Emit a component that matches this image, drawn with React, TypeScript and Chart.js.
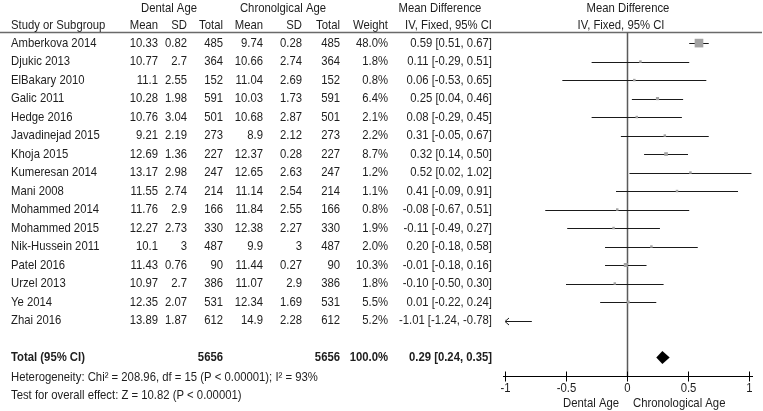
import React, { useEffect, useRef } from "react";
import { Chart, registerables } from "chart.js";

Chart.register(...registerables);

const studies = [
  "Amberkova 2014", "Djukic 2013", "ElBakary 2010", "Galic 2011", "Hedge 2016",
  "Javadinejad 2015", "Khoja 2015", "Kumeresan 2014", "Mani 2008", "Mohammed 2014",
  "Mohammed 2015", "Nik-Hussein 2011", "Patel 2016", "Urzel 2013", "Ye 2014", "Zhai 2016",
];
const dentalMean = [10.33, 10.77, 11.1, 10.28, 10.76, 9.21, 12.69, 13.17, 11.55, 11.76, 12.27, 10.1, 11.43, 10.97, 12.35, 13.89];
const dentalSD = [0.82, 2.7, 2.55, 1.98, 3.04, 2.19, 1.36, 2.98, 2.74, 2.9, 2.73, 3, 0.76, 2.7, 2.07, 1.87];
const dentalTotal = [485, 364, 152, 591, 501, 273, 227, 247, 214, 166, 330, 487, 90, 386, 531, 612];
const chronMean = [9.74, 10.66, 11.04, 10.03, 10.68, 8.9, 12.37, 12.65, 11.14, 11.84, 12.38, 9.9, 11.44, 11.07, 12.34, 14.9];
const chronSD = [0.28, 2.74, 2.69, 1.73, 2.87, 2.12, 0.28, 2.63, 2.54, 2.55, 2.27, 3, 0.27, 2.9, 1.69, 2.28];
const chronTotal = [485, 364, 152, 591, 501, 273, 227, 247, 214, 166, 330, 487, 90, 386, 531, 612];
const weights = [48.0, 1.8, 0.8, 6.4, 2.1, 2.2, 8.7, 1.2, 1.1, 0.8, 1.9, 2.0, 10.3, 1.8, 5.5, 5.2];
const meanDiff = [0.59, 0.11, 0.06, 0.25, 0.08, 0.31, 0.32, 0.52, 0.41, -0.08, -0.11, 0.2, -0.01, -0.1, 0.01, -1.01];
const ciLow = [0.51, -0.29, -0.53, 0.04, -0.29, -0.05, 0.14, 0.02, -0.09, -0.67, -0.49, -0.18, -0.18, -0.5, -0.22, -1.24];
const ciHigh = [0.67, 0.51, 0.65, 0.46, 0.45, 0.67, 0.5, 1.02, 0.91, 0.51, 0.27, 0.58, 0.16, 0.3, 0.24, -0.78];

const totalDental = 5656;
const totalChron = 5656;
const totalWeight = 100.0;
const totalMD = 0.29;
const totalLow = 0.24;
const totalHigh = 0.35;

const xTicks = [-1, -0.5, 0, 0.5, 1];
const xTickLabels = ["-1", "-0.5", "0", "0.5", "1"];
const heterogeneityText = "Heterogeneity: Chi\u00B2 = 208.96, df = 15 (P < 0.00001); I\u00B2 = 93%";
const overallText = "Test for overall effect: Z = 10.82 (P < 0.00001)";
const leftLabel = "Dental Age";
const rightLabel = "Chronological Age";

const TOTAL_ROW = 17;
const AXIS_ROW = 18;
const TOP_ROW = -0.6;

const FONT = '"Liberation Sans", Arial, sans-serif';
const SX = 0.87;
const TEXT = "#1e1e1e";

function txt(ctx: CanvasRenderingContext2D, s: string, x: number, y: number, align: CanvasTextAlign, bold = false, size = 13) {
  ctx.save();
  ctx.font = `${bold ? "bold " : ""}${size}px ${FONT}`;
  ctx.fillStyle = TEXT;
  ctx.textBaseline = "middle";
  ctx.textAlign = align;
  ctx.translate(x, y);
  ctx.scale(SX, 1);
  ctx.fillText(s, 0, 0);
  ctx.restore();
}

const fmt2 = (v: number) => v.toFixed(2);
const ciText = (m: number, l: number, h: number) => `${fmt2(m)} [${fmt2(l)}, ${fmt2(h)}]`;

const forestPlugin = {
  id: "forest",
  beforeDatasetsDraw(chart: any) {
    const ctx: CanvasRenderingContext2D = chart.ctx;
    const xs = chart.scales.x;
    const ys = chart.scales.y;
    const W = chart.width;
    // header line
    const hy = Math.round(ys.getPixelForValue(TOP_ROW)) + 0.5;
    ctx.save();
    ctx.strokeStyle = "#6a6a6a";
    ctx.lineWidth = 1.5;
    ctx.beginPath();
    ctx.moveTo(0, hy);
    ctx.lineTo(W - 1, hy);
    ctx.stroke();
    // zero line
    const zx = Math.round(xs.getPixelForValue(0)) + 0.5;
    ctx.strokeStyle = "#5a5a5a";
    ctx.lineWidth = 1.5;
    ctx.beginPath();
    ctx.moveTo(zx, hy);
    ctx.lineTo(zx, ys.getPixelForValue(AXIS_ROW));
    ctx.stroke();
    // whiskers
    ctx.strokeStyle = "#1a1a1a";
    ctx.lineWidth = 1;
    for (let i = 0; i < studies.length; i++) {
      const y = Math.round(ys.getPixelForValue(i)) + 0.5;
      const lo = Math.max(ciLow[i], -1);
      const hi = Math.min(ciHigh[i], 1.05);
      const x1 = xs.getPixelForValue(lo);
      const x2 = xs.getPixelForValue(hi);
      ctx.beginPath();
      ctx.moveTo(x1, y);
      ctx.lineTo(x2, y);
      ctx.stroke();
      if (ciLow[i] < -1) {
        ctx.beginPath();
        ctx.moveTo(x1 + 4, y - 3.5);
        ctx.lineTo(x1, y);
        ctx.lineTo(x1 + 4, y + 3.5);
        ctx.stroke();
      }
    }
    ctx.restore();
  },
  afterDraw(chart: any) {
    const ctx: CanvasRenderingContext2D = chart.ctx;
    const xs = chart.scales.x;
    const ys = chart.scales.y;
    const rowY = (r: number) => ys.getPixelForValue(r);

    // headers
    txt(ctx, "Dental Age", 169, 8, "center");
    txt(ctx, "Chronolgical Age", 283, 8, "center");
    txt(ctx, "Mean Difference", 440, 8, "center");
    txt(ctx, "Mean Difference", 628, 8, "center");
    const h2 = 25;
    txt(ctx, "Study or Subgroup", 11, h2, "left");
    txt(ctx, "Mean", 158, h2, "right");
    txt(ctx, "SD", 187, h2, "right");
    txt(ctx, "Total", 223, h2, "right");
    txt(ctx, "Mean", 263, h2, "right");
    txt(ctx, "SD", 302, h2, "right");
    txt(ctx, "Total", 340, h2, "right");
    txt(ctx, "Weight", 388, h2, "right");
    txt(ctx, "IV, Fixed, 95% CI", 492, h2, "right");
    txt(ctx, "IV, Fixed, 95% CI", 621, h2, "center");

    // rows
    for (let i = 0; i < studies.length; i++) {
      const y = rowY(i);
      txt(ctx, studies[i], 11, y, "left");
      txt(ctx, String(dentalMean[i]), 158, y, "right");
      txt(ctx, String(dentalSD[i]), 187, y, "right");
      txt(ctx, String(dentalTotal[i]), 223, y, "right");
      txt(ctx, String(chronMean[i]), 263, y, "right");
      txt(ctx, String(chronSD[i]), 302, y, "right");
      txt(ctx, String(chronTotal[i]), 340, y, "right");
      txt(ctx, weights[i].toFixed(1) + "%", 388, y, "right");
      txt(ctx, ciText(meanDiff[i], ciLow[i], ciHigh[i]), 492, y, "right");
    }

    // total row
    const ty = rowY(TOTAL_ROW);
    txt(ctx, "Total (95% CI)", 11, ty, "left", true);
    txt(ctx, String(totalDental), 223, ty, "right", true);
    txt(ctx, String(totalChron), 340, ty, "right", true);
    txt(ctx, totalWeight.toFixed(1) + "%", 388, ty, "right", true);
    txt(ctx, ciText(totalMD, totalLow, totalHigh), 492, ty, "right", true);
    txt(ctx, heterogeneityText, 11, 377, "left");
    txt(ctx, overallText, 11, 395, "left");

    // diamond
    const dl = xs.getPixelForValue(totalLow);
    const dr = xs.getPixelForValue(totalHigh);
    const dc = xs.getPixelForValue(totalMD);
    ctx.save();
    ctx.fillStyle = "#000";
    ctx.beginPath();
    ctx.moveTo(dl, ty);
    ctx.lineTo(dc, ty - 6.5);
    ctx.lineTo(dr, ty);
    ctx.lineTo(dc, ty + 6.5);
    ctx.closePath();
    ctx.fill();

    // axis
    const ay = Math.round(rowY(AXIS_ROW)) + 0.5;
    ctx.strokeStyle = "#000";
    ctx.lineWidth = 1;
    ctx.beginPath();
    ctx.moveTo(xs.getPixelForValue(-1) - 2, ay);
    ctx.lineTo(xs.getPixelForValue(1) + 4, ay);
    ctx.stroke();
    xTicks.forEach((v, k) => {
      const x = Math.round(xs.getPixelForValue(v)) + 0.5;
      ctx.beginPath();
      ctx.moveTo(x, ay - 5);
      ctx.lineTo(x, ay + 5);
      ctx.stroke();
      txt(ctx, xTickLabels[k], x, ay + 12, "center");
    });
    ctx.restore();
    const zx = xs.getPixelForValue(0);
    txt(ctx, leftLabel, zx - 8, 403, "right");
    txt(ctx, rightLabel, zx + 6, 403, "left");
  },
};

export default function App() {
  const ref = useRef<HTMLCanvasElement | null>(null);
  useEffect(() => {
    if (!ref.current) return;
    const chart = new Chart(ref.current, {
      type: "scatter",
      data: {
        datasets: [
          {
            data: meanDiff.map((m, i) => ({ x: m, y: i })),
            pointStyle: "rect",
            pointRadius: weights.map((w) => Math.max(2.5, 12.5 * Math.sqrt(w / 100)) / Math.SQRT2),
            backgroundColor: "#a3a3a3",
            borderColor: "#a3a3a3",
            borderWidth: 0,
          },
        ],
      },
      options: {
        animation: false,
        responsive: false,
        devicePixelRatio: 1,
        layout: { padding: { left: 505, right: 14, top: 32, bottom: 35 } },
        plugins: { legend: { display: false }, tooltip: { enabled: false } },
        scales: {
          x: { type: "linear", min: -1, max: 1, display: false },
          y: { type: "linear", min: TOP_ROW, max: AXIS_ROW, reverse: true, display: false },
        },
      },
      plugins: [forestPlugin],
    });
    return () => chart.destroy();
  }, []);
  return (
    <div style={{ position: "absolute", left: 0, top: 0, width: 763, height: 411, background: "#fff" }}>
      <canvas ref={ref} width={763} height={411} style={{ display: "block" }} />
    </div>
  );
}
